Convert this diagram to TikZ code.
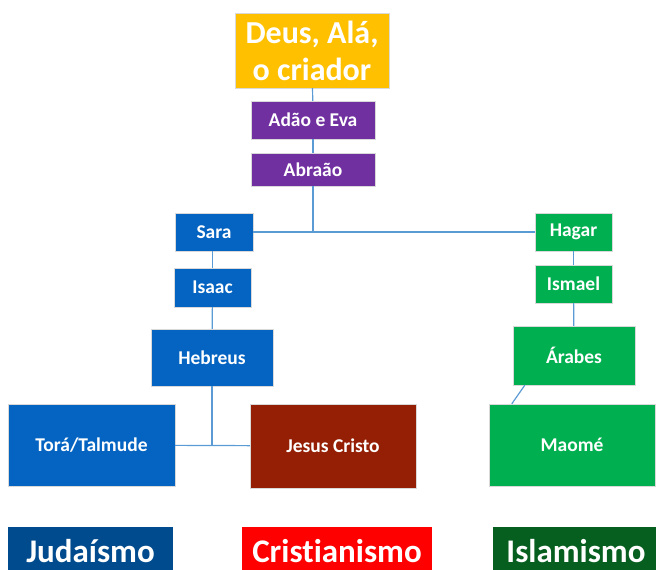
\documentclass[tikz,border=0pt]{standalone}
\usepackage{fontspec}
\setmainfont{Carlito}[Ligatures=NoCommon]
\definecolor{gold}{HTML}{FFC000}
\definecolor{roxo}{HTML}{7030A0}
\definecolor{azul}{HTML}{0563C1}
\definecolor{verde}{HTML}{00B050}
\definecolor{vinho}{HTML}{951F05}
\definecolor{azulesc}{HTML}{004B8D}
\definecolor{verdeesc}{HTML}{065F1F}
\definecolor{linha}{HTML}{5B9BD5}
\begin{document}
\begin{tikzpicture}[x=1pt,y=-1pt,
  box/.style={draw=white!85!black,line width=0.4pt,text=white,inner sep=0pt,align=center,
    font=\fontsize{19.5}{23}\selectfont\bfseries},
  big/.style={box,font=\fontsize{32}{37}\selectfont\bfseries},
  rel/.style={box,draw=none,font=\fontsize{33}{38}\selectfont\bfseries},
  link/.style={draw=linha,line width=1.2pt}]
\useasboundingbox (0,0) rectangle (656,570);

\node[big,fill=gold,minimum width=154,minimum height=75] (deus) at (312,50.5) {Deus, Alá,\\o criador};
\node[box,fill=roxo,minimum width=124,minimum height=38] (adao) at (313,120) {Adão e Eva};
\node[box,fill=roxo,minimum width=124,minimum height=33] (abraao) at (313,169.5) {Abraão};

\node[box,fill=azul,minimum width=78,minimum height=38] (sara) at (214,232) {Sara};
\node[box,fill=azul,minimum width=77,minimum height=39] (isaac) at (212.5,287.5) {Isaac};
\node[box,fill=azul,minimum width=122,minimum height=57] (hebreus) at (212,357.5) {Hebreus};
\node[box,fill=azul,minimum width=167,minimum height=82] (tora) at (91.5,445) {Torá/Talmude};
\node[box,fill=vinho,minimum width=166,minimum height=84] (jesus) at (333,446) {Jesus Cristo};

\node[box,fill=verde,minimum width=77,minimum height=38] (hagar) at (573.5,232) {Hagar};
\node[box,fill=verde,minimum width=77,minimum height=38] (ismael) at (573.5,284) {Ismael};
\node[box,fill=verde,minimum width=122,minimum height=59] (arabes) at (574,355.5) {Árabes};
\node[box,fill=verde,minimum width=166,minimum height=82] (maome) at (572,445) {Maomé};

\node[rel,fill=azulesc,minimum width=165,minimum height=48] (judaismo) at (90.5,551) {Judaísmo};
\node[rel,fill=red,minimum width=190,minimum height=48] (cristianismo) at (337,551) {Cristianismo};
\node[rel,fill=verdeesc,minimum width=166,minimum height=48] (islamismo) at (576,551) {Islamismo};

\draw[link] (deus) -- (adao);
\draw[link] (adao) -- (abraao);
\draw[link] (abraao) -- (abraao |- sara);
\draw[link] (sara) -- (hagar);
\draw[link] (isaac.north) -- (isaac.north |- sara.south);
\draw[link] (hebreus) -- (isaac);
\draw[link] (hebreus.south) -- (hebreus.south |- tora);
\draw[link] (tora) -- (jesus);
\draw[link] (ismael.north) -- (ismael.north |- hagar.south);
\draw[link] (arabes) -- (ismael);
\draw[link] ([xshift=12]arabes.south west) -- ([xshift=23]maome.north west);
\end{tikzpicture}
\end{document}
